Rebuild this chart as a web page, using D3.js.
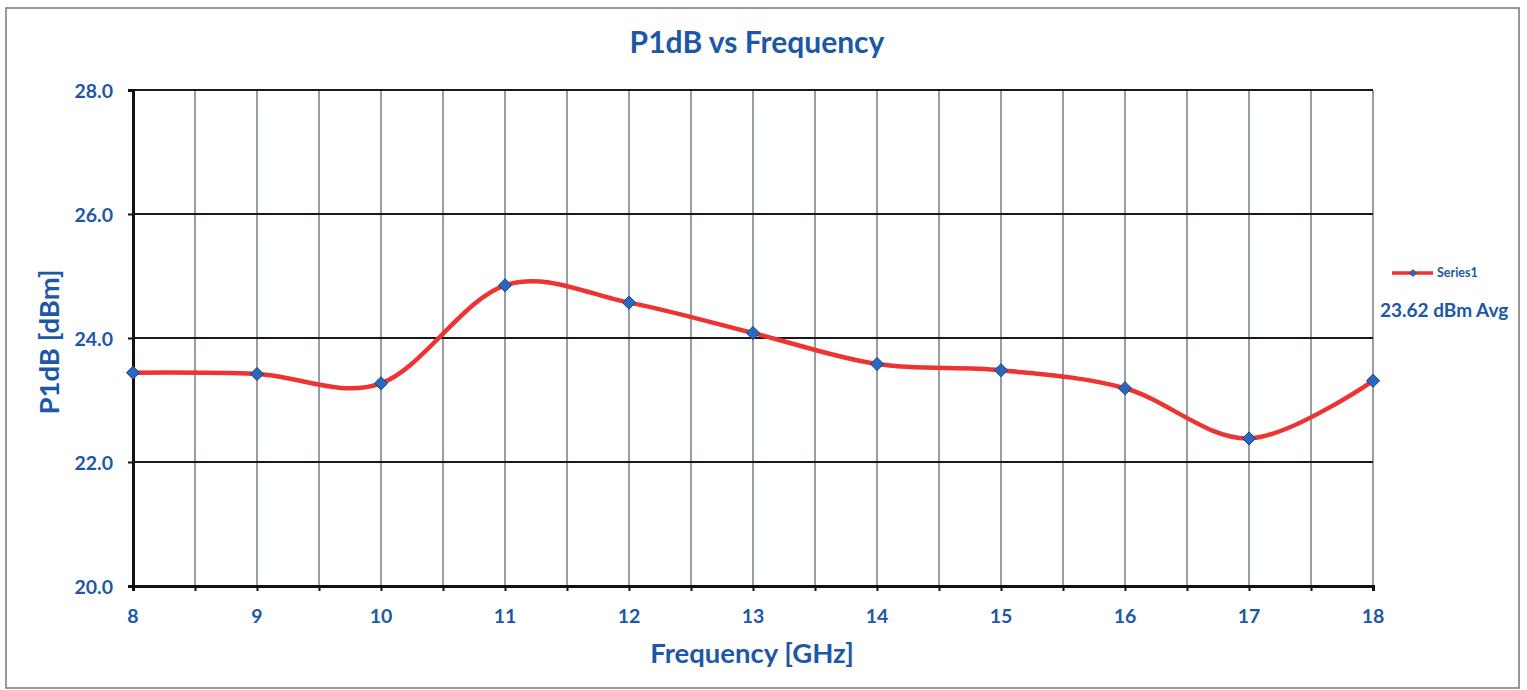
<!DOCTYPE html>
<html><head><meta charset="utf-8">
<script src="https://cdn.jsdelivr.net/npm/d3@7"></script>
<style>body{margin:0;background:#fff;}svg{display:block;}</style>
</head><body>
<script>
const freqs = [8, 9, 10, 11, 12, 13, 14, 15, 16, 17, 18];
const p1db = [23.44, 23.42, 23.27, 24.85, 24.57, 24.08, 23.58, 23.48, 23.19, 22.38, 23.31];
const yTicks = [20, 22, 24, 26, 28];
const xTicks = [8, 9, 10, 11, 12, 13, 14, 15, 16, 17, 18];
const seriesName = "Series1";
const avgLabel = "23.62 dBm Avg";
const title = "P1dB vs Frequency";
const xTitle = "Frequency [GHz]";
const yTitle = "P1dB [dBm]";

const W = 1527, H = 690;
const blue = "#1d58a6";
const font = "Lato, 'Open Sans', sans-serif";
const svg = d3.select("body").append("svg").attr("width", W).attr("height", H);
svg.append("rect").attr("x", 6).attr("y", 8).attr("width", 1513).attr("height", 680)
  .attr("fill", "#fff").attr("stroke", "#777").attr("stroke-width", 1.5);

const x = d3.scaleLinear().domain([8, 18]).range([133, 1373]);
const y = d3.scaleLinear().domain([20, 28]).range([586, 90]);

const minor = d3.range(8, 18.01, 0.5);
// vertical gridlines
svg.append("g").selectAll("line").data(minor.filter(d => d > 8)).join("line")
  .attr("x1", d => x(d)).attr("x2", d => x(d)).attr("y1", y(28)).attr("y2", y(20))
  .attr("stroke", "#5e6a7e").attr("stroke-width", 1.3);
// horizontal gridlines
svg.append("g").selectAll("line").data(yTicks.filter(d => d > 20)).join("line")
  .attr("x1", x(8)).attr("x2", x(18)).attr("y1", d => y(d)).attr("y2", d => y(d))
  .attr("stroke", "#1a1a1a").attr("stroke-width", 2.2);

// axes
const xAxis = svg.append("g").attr("transform", `translate(0,${y(20)})`)
  .call(d3.axisBottom(x).tickValues(minor).tickSize(5).tickFormat(""));
xAxis.select(".domain").attr("stroke", "#111").attr("stroke-width", 3);
xAxis.selectAll(".tick line").attr("stroke", "#111").attr("stroke-width", 2);
const yAxis = svg.append("g").attr("transform", `translate(${x(8)},0)`)
  .call(d3.axisLeft(y).tickValues(yTicks).tickSize(5).tickFormat(""));
yAxis.select(".domain").attr("stroke", "#111").attr("stroke-width", 3);
yAxis.selectAll(".tick line").attr("stroke", "#111").attr("stroke-width", 2);

// tick labels
svg.append("g").selectAll("text").data(xTicks).join("text")
  .attr("x", d => x(d)).attr("y", 623).attr("text-anchor", "middle")
  .attr("font-family", font).attr("font-weight", "bold").attr("font-size", 19.5).attr("fill", blue)
  .text(d => d);
svg.append("g").selectAll("text").data(yTicks).join("text")
  .attr("x", 113).attr("y", d => y(d) + 8).attr("text-anchor", "end")
  .attr("font-family", font).attr("font-weight", "bold").attr("font-size", 19.5).attr("fill", blue)
  .text(d => d.toFixed(1));

// titles
svg.append("text").attr("x", 757).attr("y", 53).attr("text-anchor", "middle")
  .attr("font-family", font).attr("font-weight", "bold").attr("font-size", 30).attr("fill", blue).text(title);
svg.append("text").attr("x", 752).attr("y", 663).attr("text-anchor", "middle")
  .attr("font-family", font).attr("font-weight", "bold").attr("font-size", 27.5).attr("fill", blue).text(xTitle);
svg.append("text").attr("transform", "translate(59,342) rotate(-90)").attr("text-anchor", "middle")
  .attr("font-family", font).attr("font-weight", "bold").attr("font-size", 27.5).attr("fill", blue).text(yTitle);

// series
const data = freqs.map((f, i) => ({f, v: p1db[i]}));
const line = d3.line().x(d => x(d.f)).y(d => y(d.v)).curve(d3.curveCatmullRom.alpha(0));
svg.append("path").datum(data).attr("d", line).attr("fill", "none")
  .attr("stroke", "#ee3333").attr("stroke-width", 4.5);
const diamond = d3.symbol().type(d3.symbolDiamond2).size(110);
svg.append("g").selectAll("path").data(data).join("path")
  .attr("transform", d => `translate(${x(d.f)},${y(d.v)})`).attr("d", diamond)
  .attr("fill", "#2a68c0").attr("stroke", "#16407e").attr("stroke-width", 1);

// legend
const lg = svg.append("g");
lg.append("line").attr("x1", 1392).attr("x2", 1433).attr("y1", 273).attr("y2", 273)
  .attr("stroke", "#ee3333").attr("stroke-width", 3.5);
lg.append("path").attr("transform", "translate(1413,273)").attr("d", d3.symbol().type(d3.symbolDiamond2).size(30))
  .attr("fill", "#2a68c0").attr("stroke", "#16407e").attr("stroke-width", 0.8);
lg.append("text").attr("x", 1437).attr("y", 277).attr("font-family", font).attr("font-weight", "bold")
  .attr("font-size", 12.5).attr("fill", blue).text(seriesName);
lg.append("text").attr("x", 1380).attr("y", 317).attr("font-family", font).attr("font-weight", "bold")
  .attr("font-size", 19).attr("fill", blue).text(avgLabel);
</script>
</body></html>
